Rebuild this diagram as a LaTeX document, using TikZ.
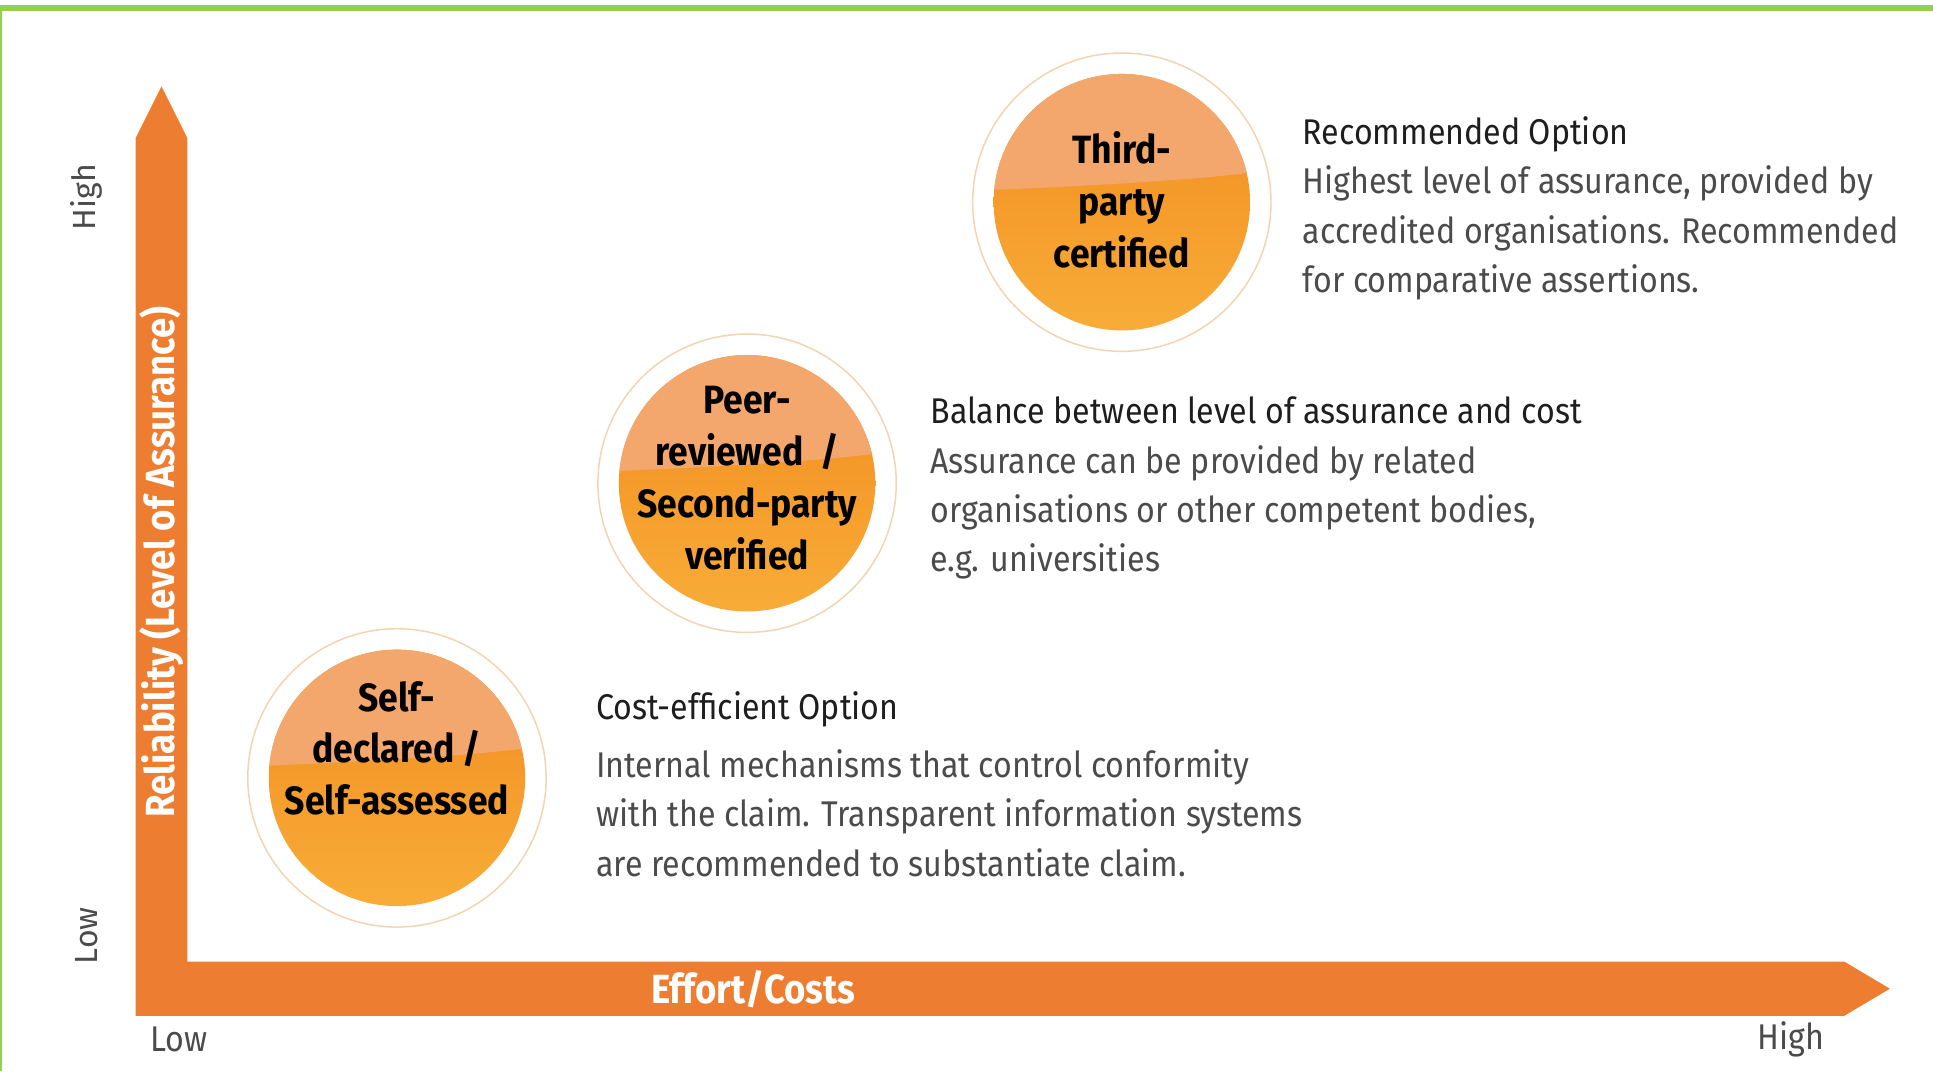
\documentclass[tikz,border=0pt]{standalone}
\usepackage{fontspec}
\usepackage{tikz}
\usetikzlibrary{positioning,calc,backgrounds}
\setmainfont{Fira Sans}[FakeStretch=0.9]
\newfontfamily\plainfont{Fira Sans}
\definecolor{framegreen}{RGB}{146,208,80}
\definecolor{axisorange}{RGB}{237,125,49}
\definecolor{ringline}{RGB}{242,212,176}
\definecolor{disctop}{RGB}{243,167,108}
\definecolor{discmid}{RGB}{241,139,32}
\definecolor{discbottom}{RGB}{248,172,56}
\definecolor{headcolor}{RGB}{30,30,30}
\definecolor{bodygray}{RGB}{75,75,75}
\tikzstyle{ring} = [circle, minimum size=242pt, inner sep=0pt, draw=ringline, line width=1.2pt, fill=white]
\tikzstyle{disc} = [circle, minimum size=208pt, inner sep=0pt,
  path picture={
    \shade[top color=discmid, bottom color=discbottom]
      (path picture bounding box.south west) rectangle (path picture bounding box.north east);
    \fill[disctop] ([yshift=10pt]path picture bounding box.west)
      .. controls ([xshift=-30pt,yshift=13pt]path picture bounding box.center)
      and ([xshift=60pt,yshift=18pt]path picture bounding box.center)
      .. ([yshift=24pt]path picture bounding box.east)
      |- (path picture bounding box.north west) -- cycle;
  }]
\tikzstyle{disctext} = [align=center, inner sep=0pt, text=black, font=\bfseries\fontsize{32}{42}\selectfont]
\tikzstyle{desc} = [align=left, inner sep=0pt, text=bodygray, font=\fontsize{29}{40}\selectfont]
\tikzstyle{axislabel} = [inner sep=0pt, text=white, font=\bfseries\fontsize{33}{36}\selectfont]
\tikzstyle{sidelabel} = [inner sep=0pt, text=bodygray, font=\plainfont\fontsize{26}{30}\selectfont]
\tikzstyle{ticklabel} = [inner sep=0pt, text=bodygray, font=\fontsize{29}{32}\selectfont]

\begin{document}
\begin{tikzpicture}[x=1pt, y=-1pt]
        \useasboundingbox (0,0) rectangle (1568,869);
        % Frame ------------------------------------------------------------------------------------
        \fill[framegreen] (0,4) rectangle (1568,9);
        \fill[framegreen] (0,4) rectangle (1.6,869);
        % Axes -------------------------------------------------------------------------------------
        \coordinate (origin) at (110,824);
        \coordinate (y_tip) at (131,70);
        \coordinate (x_tip) at (1533,802);
        \fill[axisorange] (origin) -- (110,112) -- (y_tip) -- (152,112) -- (152,780)
            -- (1496,780) -- (x_tip) -- (1496,824) -- cycle;
        \node[axislabel, rotate=90] (y_label) at (131,456) {Reliability (Level of Assurance)};
        \node[axislabel] (x_label) at (611,802) {Effort/Costs};
        % Axis ends
        \node[sidelabel, rotate=90] (y_high) at (70,160) {High};
        \node[sidelabel, rotate=90] (y_low) at (70,759) {Low};
        \node[ticklabel] (x_low) at (145,843) {Low};
        \node[ticklabel] (x_high) at (1453,843) {High};
        % Self-declared ----------------------------------------------------------------------------
        \node[ring] (self_ring) at (322,631) {};
        \node[disc] (self_disc) at (self_ring.center) {};
        \node[disctext] (self_text) at ([yshift=24pt]self_disc.center) {Self-\\declared /\\Self-assessed};
        \node[desc, right=40pt of self_ring.east, yshift=-5pt] (self_desc)
            {{\color{headcolor}Cost-efficient Option}\\[7pt]
             Internal mechanisms that control conformity\\
             with the claim. Transparent information systems\\
             are recommended to substantiate claim.};
        % Peer-reviewed ----------------------------------------------------------------------------
        \node[ring] (peer_ring) at (606,392) {};
        \node[disc] (peer_disc) at (peer_ring.center) {};
        \node[disctext] (peer_text) at ([yshift=4pt]peer_disc.center) {Peer-\\reviewed~~/\\Second-party\\verified};
        \node[desc, right=27pt of peer_ring.east, yshift=-4pt] (peer_desc)
            {{\color{headcolor}Balance between level of assurance and cost}\\
             Assurance can be provided by related\\
             organisations or other competent bodies,\\
             e.g. universities};
        % Third-party ------------------------------------------------------------------------------
        \node[ring] (third_ring) at (910,164) {};
        \node[disc] (third_disc) at (third_ring.center) {};
        \node[disctext] (third_text) at ([yshift=2pt]third_disc.center) {Third-\\party\\certified};
        \node[desc, right=25pt of third_ring.east, yshift=-5pt] (third_desc)
            {{\color{headcolor}Recommended Option}\\
             Highest level of assurance, provided by\\
             accredited organisations. Recommended\\
             for comparative assertions.};
    \end{tikzpicture}
\end{document}
